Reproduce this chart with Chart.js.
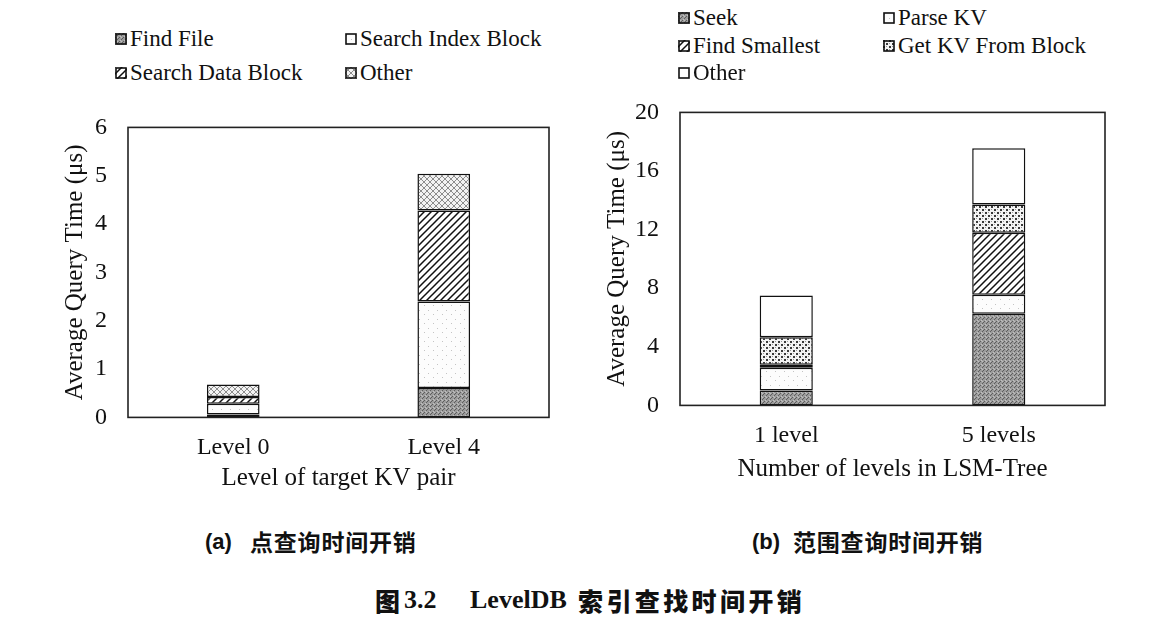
<!DOCTYPE html>
<html>
<head>
<meta charset="utf-8">
<script src="https://cdn.jsdelivr.net/npm/chart.js@4.4.1/dist/chart.umd.min.js"></script>
<style>
  html, body { margin:0; padding:0; background:#fff; }
  body { width:1170px; height:628px; position:relative; overflow:hidden; font-family:"Liberation Serif", serif; color:#111; }
  .box { position:absolute; }
  .leg { position:absolute; font-family:"Liberation Serif", serif; font-size:23px; line-height:24px; white-space:nowrap; display:flex; align-items:center; }
  .leg canvas { margin-right:3px; }
  .t { position:absolute; white-space:nowrap; line-height:1; }
  .capL { font-family:"Liberation Sans", sans-serif; font-size:22px; font-weight:bold; }
  .capC { font-family:"Noto Sans CJK SC", sans-serif; font-size:23px; font-weight:700; letter-spacing:0.8px; }
  .ttlL { font-family:"Liberation Serif", serif; font-size:26px; font-weight:bold; }
  .ttlC { font-family:"Noto Sans CJK SC", sans-serif; font-size:25px; font-weight:900; letter-spacing:3.4px; }
</style>
</head>
<body>
<div class="box" style="left:40px;top:91.6px;width:520px;height:401.4px;"><canvas id="c1"></canvas></div>
<div class="box" style="left:580px;top:76.6px;width:545px;height:407.4px;"><canvas id="c2"></canvas></div>
<div id="leg1"></div>
<div id="leg2"></div>
<div class="t capL" style="left:205px;top:531px;">(a)</div>
<div class="t capC" style="left:250px;top:530px;">点查询时间开销</div>
<div class="t capL" style="left:752px;top:531px;">(b)</div>
<div class="t capC" style="left:793px;top:530px;">范围查询时间开销</div>
<div class="t ttlC" style="left:375px;top:588px;">图</div>
<div class="t ttlL" style="left:404px;top:587px;">3.2</div>
<div class="t ttlL" style="left:470px;top:587px;">LevelDB</div>
<div class="t ttlC" style="left:578px;top:588px;">索引查找时间开销</div>
<script>
// ---------- data ----------
const categoriesA = ['Level 0', 'Level 4'];
const findFile = [0.06, 0.61];
const searchIndexBlock = [0.22, 1.79];
const searchDataBlock = [0.14, 1.88];
const otherA = [0.26, 0.76];
const yTicksA = [0, 1, 2, 3, 4, 5, 6];

const categoriesB = ['1 level', '5 levels'];
const seek = [1.02, 6.26];
const parseKV = [1.55, 1.30];
const findSmallest = [0.21, 4.23];
const getKVFromBlock = [1.88, 1.93];
const otherB = [2.85, 3.84];
const yTicksB = [0, 4, 8, 12, 16, 20];

// ---------- patterns ----------
function tile(size, draw) {
  const c = document.createElement('canvas');
  c.width = size; c.height = size;
  const x = c.getContext('2d');
  draw(x, size);
  return x.createPattern(c, 'repeat');
}
const P = {
  darkStipple: tile(4, (x) => {
    x.fillStyle = '#9c9c9c'; x.fillRect(0,0,4,4);
    x.fillStyle = '#5e5e5e'; x.fillRect(0,0,1,1); x.fillRect(2,2,1,1); x.fillRect(3,1,1,1);
    x.fillStyle = '#c0c0c0'; x.fillRect(1,3,1,1); x.fillRect(2,0,1,1);
  }),
  lightDots: tile(9, (x) => {
    x.fillStyle = '#fcfcfc'; x.fillRect(0,0,9,9);
    x.fillStyle = '#c4c4c4'; x.fillRect(1,2,1,1); x.fillRect(6,6,1,1);
  }),
  hatch: tile(7, (x, s) => {
    x.fillStyle = '#fff'; x.fillRect(0,0,s,s);
    x.strokeStyle = '#111'; x.lineWidth = 1.5;
    x.beginPath();
    x.moveTo(-1, s+1); x.lineTo(s+1, -1);
    x.moveTo(-1, 1); x.lineTo(1, -1);
    x.moveTo(s-1, s+1); x.lineTo(s+1, s-1);
    x.stroke();
  }),
  crossLight: tile(6, (x, s) => {
    x.fillStyle = '#f2f2f2'; x.fillRect(0,0,s,s);
    x.strokeStyle = '#8c8c8c'; x.lineWidth = 1;
    x.beginPath();
    x.moveTo(0, 0); x.lineTo(s, s);
    x.moveTo(0, s); x.lineTo(s, 0);
    x.stroke();
  }),
  checkerDots: tile(6, (x, s) => {
    x.fillStyle = '#f4f4f4'; x.fillRect(0,0,s,s);
    x.fillStyle = '#3a3a3a'; x.fillRect(0,0,2,2); x.fillRect(3,3,2,2);
    x.fillStyle = '#9a9a9a'; x.fillRect(3,0,1,1); x.fillRect(0,3,1,1);
  }),
  white: '#ffffff'
};

// ---------- helpers ----------
const boxPlugin = {
  id: 'plotBox',
  afterDatasetsDraw(chart) {
    const a = chart.chartArea, c = chart.ctx;
    c.save();
    c.strokeStyle = '#222'; c.lineWidth = 1.6;
    c.strokeRect(a.left, a.top, a.right - a.left, a.bottom - a.top);
    c.restore();
  }
};

function ds(label, data, fill) {
  return { label, data, backgroundColor: fill, borderColor: '#111', borderWidth: 1.5,
           borderSkipped: false, barPercentage: 0.25, categoryPercentage: 1.0 };
}

const tickFont = { family: '"Liberation Serif", serif', size: 24 };
const titleFont = { family: '"Liberation Serif", serif', size: 25 };

function makeChart(id, cats, datasets, ticks, xTitle, yWidth, yTitlePad, xHeight, padRight) {
  const max = ticks[ticks.length - 1];
  const step = ticks[1] - ticks[0];
  return new Chart(document.getElementById(id), {
    type: 'bar',
    data: { labels: cats, datasets },
    plugins: [boxPlugin],
    options: {
      responsive: true, maintainAspectRatio: false, animation: false,
      layout: { padding: { top: 0, right: padRight, left: 0, bottom: 0 } },
      plugins: { legend: { display: false }, tooltip: { enabled: false } },
      scales: {
        x: {
          stacked: true,
          afterFit(s) { s.height = xHeight; },
          grid: { display: false, drawTicks: false },
          border: { display: false },
          ticks: { color: '#111', font: tickFont, padding: 16, maxRotation: 0 },
          title: { display: true, text: xTitle, color: '#111', font: titleFont, padding: { top: 0, bottom: 0 } }
        },
        y: {
          stacked: true, min: 0, max,
          afterFit(s) { s.width = yWidth; },
          afterBuildTicks(s) { s.ticks = ticks.map(v => ({ value: v })); },
          grid: { display: false, drawTicks: false },
          border: { display: false },
          ticks: { color: '#111', font: tickFont, padding: 21, stepSize: step },
          title: { display: true, text: 'Average Query Time (μs)', color: '#111', font: titleFont, padding: { top: yTitlePad, bottom: 0 } }
        }
      }
    }
  });
}

const dsA = [
  ds('Find File', findFile, P.darkStipple),
  ds('Search Index Block', searchIndexBlock, P.lightDots),
  ds('Search Data Block', searchDataBlock, P.hatch),
  ds('Other', otherA, P.crossLight)
];
const dsB = [
  ds('Seek', seek, P.darkStipple),
  ds('Parse KV', parseKV, P.lightDots),
  ds('Find Smallest', findSmallest, P.hatch),
  ds('Get KV From Block', getKVFromBlock, P.checkerDots),
  ds('Other', otherB, P.white)
];

makeChart('c1', categoriesA, dsA, yTicksA, 'Level of target KV pair', 88, 20, 76, 11);
makeChart('c2', categoriesB, dsB, yTicksB, 'Number of levels in LSM-Tree', 100, 22, 79, 20);

// ---------- legends (HTML, swatches drawn with the same fills) ----------
function legend(containerId, datasets, positions) {
  const cont = document.getElementById(containerId);
  datasets.forEach((d, i) => {
    const el = document.createElement('div');
    el.className = 'leg';
    el.style.left = positions[i][0] + 'px';
    el.style.top = positions[i][1] + 'px';
    const sw = document.createElement('canvas');
    sw.width = 12; sw.height = 12;
    const x = sw.getContext('2d');
    x.fillStyle = d.backgroundColor; x.fillRect(0, 0, 12, 12);
    x.strokeStyle = '#111'; x.lineWidth = 1.6; x.strokeRect(1, 1, 10, 10);
    el.appendChild(sw);
    const t = document.createElement('span');
    t.textContent = d.label;
    el.appendChild(t);
    cont.appendChild(el);
  });
}
legend('leg1', dsA, [[115, 27], [345, 27], [115, 61], [345, 61]]);
legend('leg2', dsB, [[678, 6], [883, 6], [678, 34], [883, 34], [678, 61]]);
</script>
</body>
</html>
